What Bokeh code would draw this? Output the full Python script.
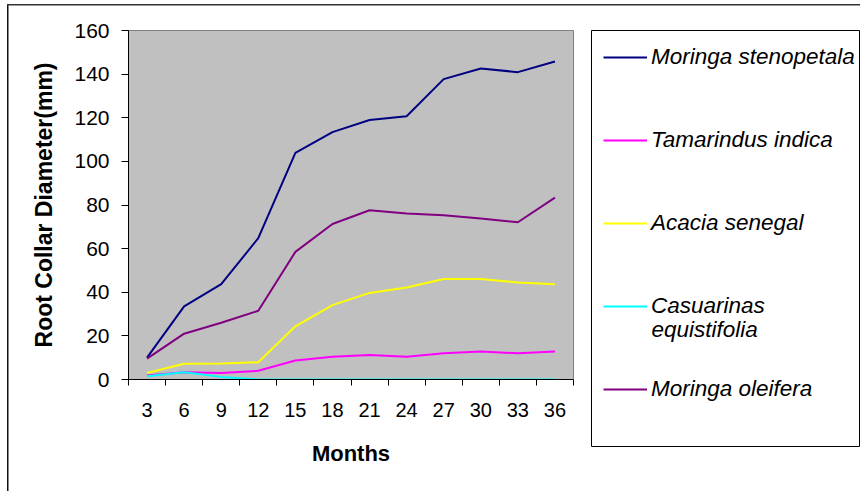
from bokeh.plotting import figure
from bokeh.layouts import row
from bokeh.models import Legend, LegendItem, FixedTicker, Label, Range1d
from bokeh.embed import file_html
from bokeh.resources import INLINE

months = [3, 6, 9, 12, 15, 18, 21, 24, 27, 30, 33, 36]
tick_labels = [str(m) for m in months]
moringa_stenopetala = [10, 33.5, 43.7, 64.8, 103.9, 113.4, 119.0, 120.7, 137.7, 142.6, 140.9, 145.8]
tamarindus_indica = [1.8, 3.3, 3.0, 4.0, 8.7, 10.4, 11.2, 10.4, 12.0, 12.8, 12.0, 12.8]
acacia_senegal = [3.0, 7.2, 7.3, 7.9, 24.4, 34.1, 39.7, 42.2, 46.1, 46.1, 44.5, 43.7]
casuarinas_equistifolia = [1.5, 3.3, 1.2, 0, 0, 0, 0, 0, 0, 0, 0, 0]
moringa_oleifera = [9.6, 21.0, 26.0, 31.5, 58.5, 71.3, 77.6, 76.1, 75.3, 73.8, 72.1, 83.4]

series = [
    ("Moringa stenopetala", moringa_stenopetala, "#000080"),
    ("Tamarindus indica", tamarindus_indica, "#FF00FF"),
    ("Acacia senegal", acacia_senegal, "#FFFF00"),
    ("Casuarinas", casuarinas_equistifolia, "#00FFFF"),
    ("Moringa oleifera", moringa_oleifera, "#800080"),
]
label_second_line = "equistifolia"

FONT = "Liberation Sans"
LEGEND_FONT_SIZE = "22.5px"

# ---------------- main chart ----------------
p = figure(width=583, height=491, output_backend="svg", toolbar_location=None,
           x_range=Range1d(1.5, 37.5), y_range=Range1d(0, 160), min_border=0,
           min_border_left=128, min_border_top=30, min_border_right=10, min_border_bottom=112)
p.frame_align = False
p.background_fill_color = "#C0C0C0"
p.border_fill_alpha = 0
p.outline_line_color = "#808080"
p.outline_line_width = 1
p.xgrid.visible = False
p.ygrid.visible = False

boundaries = [m - 1.5 for m in months] + [months[-1] + 1.5]
p.xaxis.ticker = FixedTicker(ticks=months, minor_ticks=boundaries)
p.xaxis.major_label_overrides = {m: l for m, l in zip(months, tick_labels)}
p.xaxis.major_tick_out = 6
p.xaxis.major_tick_in = 0
p.xaxis.minor_tick_out = 6
p.xaxis.minor_tick_in = 0
p.xaxis.minor_tick_line_color = "black"
p.xaxis.major_label_standoff = 17
p.xaxis.axis_label = "Months"
p.xaxis.axis_label_standoff = 21

p.yaxis.ticker = FixedTicker(ticks=list(range(0, 161, 20)))
p.yaxis.minor_tick_line_color = None
p.yaxis.major_tick_out = 7
p.yaxis.major_tick_in = 0
p.yaxis.major_label_standoff = 12
p.yaxis.axis_label = "Root Collar Diameter(mm)"
p.yaxis.axis_label_standoff = 14

for ax in (p.xaxis, p.yaxis):
    ax.axis_line_color = "black"
    ax.axis_line_width = 1
    ax.major_label_text_font = FONT
    ax.major_label_text_font_size = "20px"
    ax.major_label_text_color = "black"
    ax.axis_label_text_font = FONT
    ax.axis_label_text_font_style = "bold"
    ax.axis_label_text_color = "black"
p.xaxis.major_tick_line_color = None
p.yaxis.major_tick_line_color = "black"
p.yaxis.major_label_text_font_size = "21px"
p.xaxis.axis_label_text_font_size = "22px"
p.yaxis.axis_label_text_font_size = "23px"

for name, vals, col in series:
    p.line(months, vals, line_color=col, line_width=2)

# ---------------- legend panel ----------------
q = figure(width=277, height=491, output_backend="svg", toolbar_location=None,
           x_axis_type=None, y_axis_type=None, x_range=Range1d(0, 1), y_range=Range1d(0, 1),
           min_border=0, min_border_left=8, min_border_top=30, min_border_bottom=45,
           min_border_right=0)
q.frame_align = False
q.grid.visible = False
q.background_fill_color = "white"
q.border_fill_alpha = 0
q.outline_line_color = "black"
q.outline_line_width = 1

items = []
for name, vals, col in series:
    # legend proxies: same series, lying outside this panel's ranges
    r = q.line(months, vals, line_color=col, line_width=2)
    items.append(LegendItem(label=name, renderers=[r]))

legend = Legend(items=items, location=(12, 42), padding=12, spacing=53,
                glyph_width=44, glyph_height=20, label_height=30, label_standoff=4,
                border_line_color=None, background_fill_alpha=0,
                label_text_font=FONT, label_text_font_size=LEGEND_FONT_SIZE,
                label_text_font_style="italic", label_text_color="black")
q.add_layout(legend, "center")

extra = Label(x=60, y=117, x_units="screen", y_units="screen", text=label_second_line,
              text_font=FONT, text_font_size=LEGEND_FONT_SIZE, text_font_style="italic",
              text_color="black", text_baseline="middle", text_align="left")
q.add_layout(extra)

layout = row(p, q, spacing=0)
layout.styles = {
    "background-color": "white",
    "background-image": "linear-gradient(#333333, #333333), linear-gradient(#111111, #111111)",
    "background-size": "100% 1.5px, 1.5px 100%",
    "background-position": "7px 4px, 6.5px 4px",
    "background-repeat": "no-repeat",
}

open("out.html", "w").write(file_html(layout, INLINE))
